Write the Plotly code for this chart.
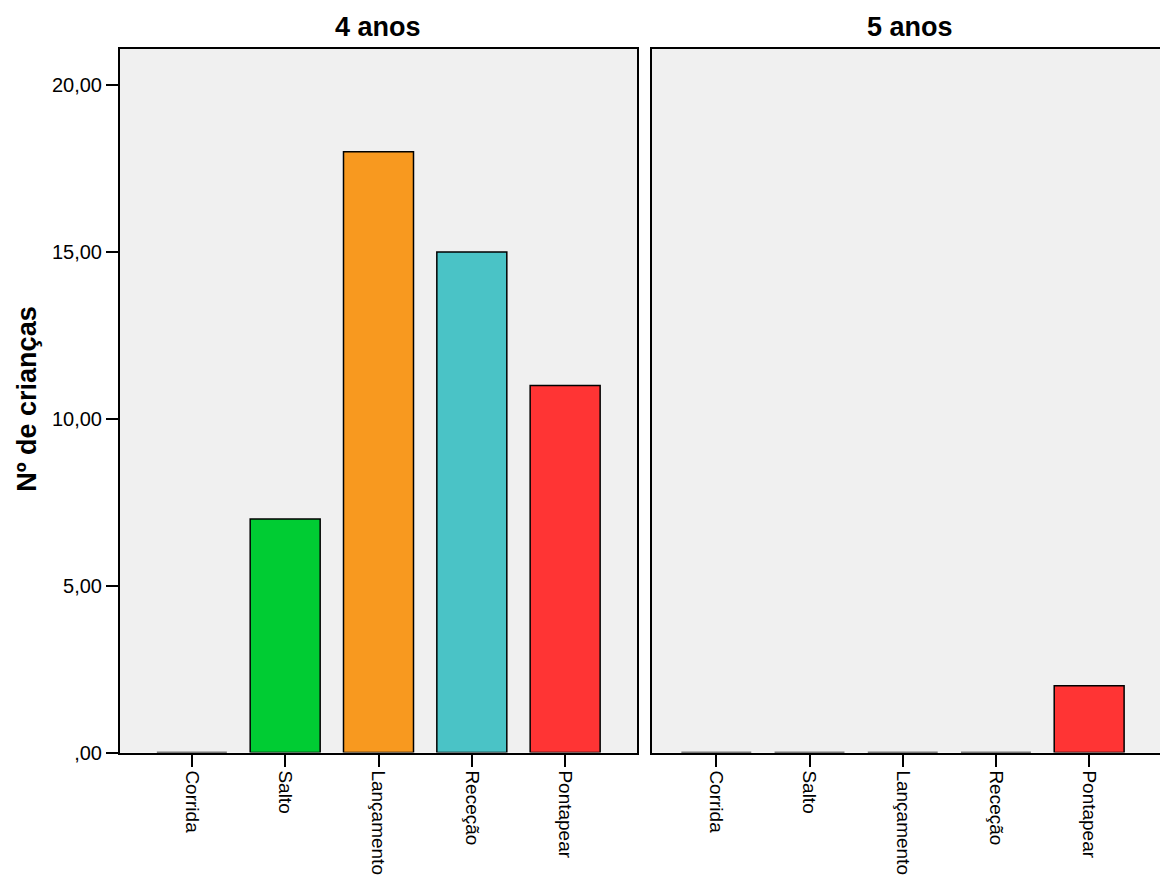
import plotly.graph_objects as go

categories = ["Corrida", "Salto", "Lançamento", "Receção", "Pontapear"]
values_4anos = [0, 7, 18, 15, 11]
values_5anos = [0, 0, 0, 0, 2]
bar_colors = ["#00CC33", "#00CC33", "#F8991F", "#4AC3C6", "#FF3434"]
panel_titles = ["4 anos", "5 anos"]
y_tickvals = [0, 5, 10, 15, 20]
y_ticktext = [",00", "5,00", "10,00", "15,00", "20,00"]
y_title = "Nº de crianças"

W, H = 1160, 879
FONT = "Liberation Sans, Arial, sans-serif"
K = 0.988  # vertical compensation

fig = go.Figure()
fig.add_trace(go.Bar(x=categories, y=values_4anos, xaxis="x", yaxis="y",
                     marker=dict(color=bar_colors, line=dict(color="black", width=1.5)),
                     width=0.75, showlegend=False))
fig.add_trace(go.Bar(x=categories, y=values_5anos, xaxis="x2", yaxis="y2",
                     marker=dict(color=bar_colors, line=dict(color="black", width=1.5)),
                     width=0.75, showlegend=False))

ydom = [1 - (753 / K) / H, 1 - (49 / K) / H]
x1dom = [120 / W, 637 / W]
x2dom = [652 / W, 1.0]

common_x = dict(type="category", showgrid=False, zeroline=False, showline=True,
                linecolor="black", linewidth=2, mirror=True, ticks="outside",
                ticklen=12, tickwidth=2, tickcolor="black", tickangle=90,
                tickfont=dict(family=FONT, size=19, color="black"))

fig.update_layout(
    width=W, height=H,
    margin=dict(l=0, r=0, t=0, b=0),
    paper_bgcolor="white",
    plot_bgcolor="#F0F0F0",
    font=dict(family=FONT, color="black"),
    xaxis=dict(domain=x1dom, anchor="y", range=[-0.77, 4.77], **common_x),
    xaxis2=dict(domain=x2dom, anchor="y2", range=[-0.69, 4.76], **common_x),
    yaxis=dict(domain=ydom, anchor="x", range=[0, 21.08], showgrid=False, zeroline=False,
               showline=True, linecolor="black", linewidth=2, mirror=True,
               ticks="outside", ticklen=12, tickwidth=2, tickcolor="black",
               tickvals=y_tickvals, ticktext=y_ticktext,
               tickfont=dict(family=FONT, size=20, color="black")),
    yaxis2=dict(domain=ydom, anchor="x2", range=[0, 21.08], showgrid=False, zeroline=False,
                showline=True, linecolor="black", linewidth=2, mirror=False,
                showticklabels=False, ticks=""),
)

fig.add_annotation(text="<b>" + panel_titles[0] + "</b>", x=(x1dom[0] + x1dom[1]) / 2,
                   y=1 - (27 / K) / H, xref="paper", yref="paper", showarrow=False,
                   xanchor="center", yanchor="middle",
                   font=dict(family=FONT, size=27, color="black"))
fig.add_annotation(text="<b>" + panel_titles[1] + "</b>", x=(652 + 1168) / 2 / W,
                   y=1 - (27 / K) / H, xref="paper", yref="paper", showarrow=False,
                   xanchor="center", yanchor="middle",
                   font=dict(family=FONT, size=27, color="black"))
fig.add_annotation(text="<b>" + y_title + "</b>", x=27 / W, y=1 - (400 / K) / H,
                   xref="paper", yref="paper", showarrow=False, textangle=-90,
                   xanchor="center", yanchor="middle",
                   font=dict(family=FONT, size=27, color="black"))

post = ("document.documentElement.style.margin='0';"
        "document.documentElement.style.overflow='hidden';"
        "document.body.style.margin='0';"
        "document.body.style.overflow='hidden';")

fig.write_html("out.html", config={"displayModeBar": False}, post_script=post)
